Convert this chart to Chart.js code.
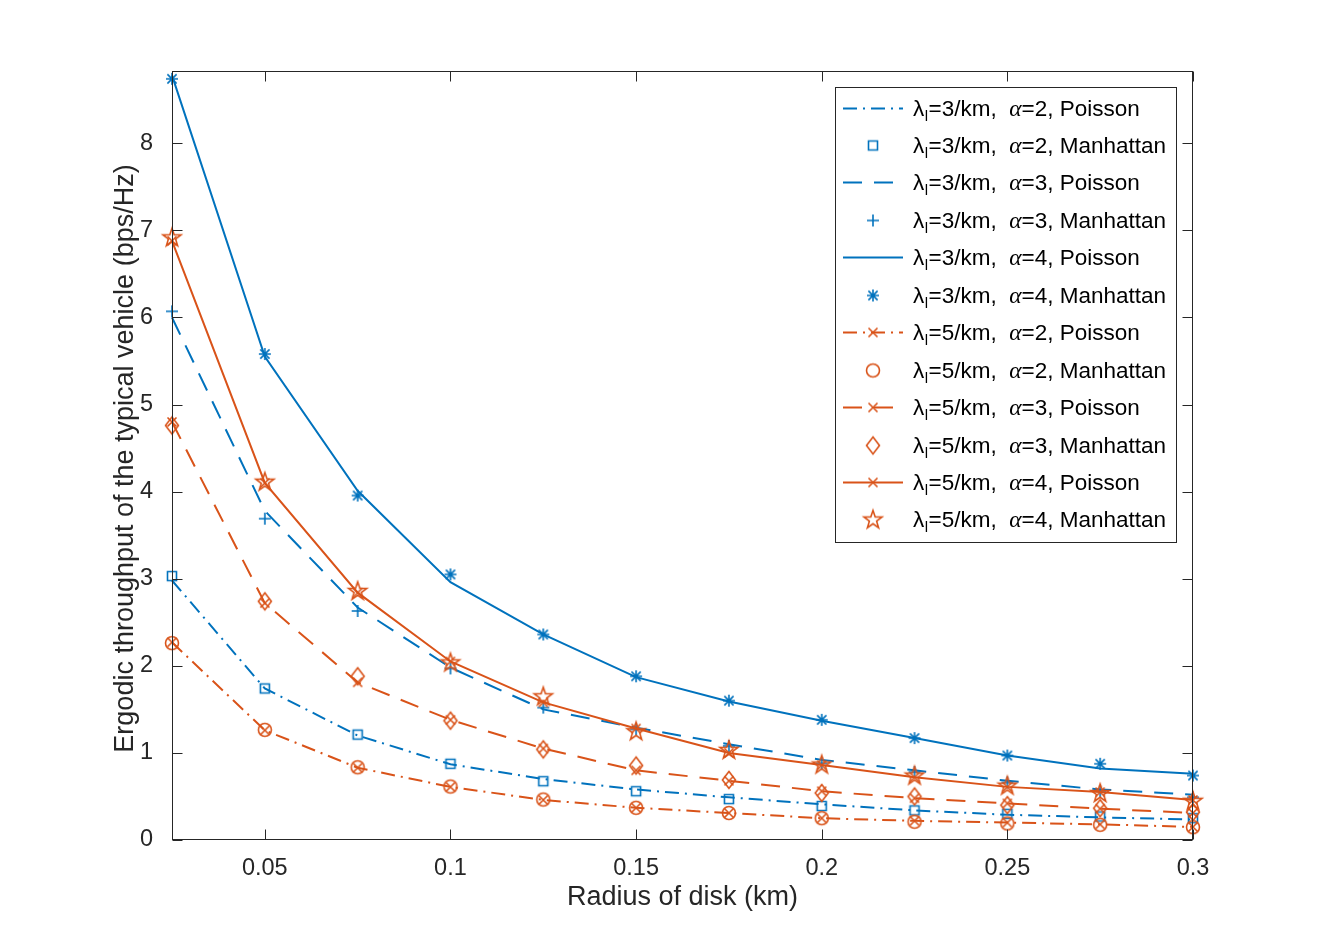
<!DOCTYPE html>
<html>
<head>
<meta charset="utf-8">
<script src="https://cdn.jsdelivr.net/npm/chart.js@4.4.1/dist/chart.umd.min.js"></script>
<style>
  html, body { margin: 0; padding: 0; background: #ffffff; }
  #wrap { width: 1319px; height: 944px; }
  canvas { display: block; }
</style>
</head>
<body>
<div id="wrap"><canvas id="c" width="1319" height="944"></canvas></div>
<script>
// ---------------- data ----------------
const radius = [0.025, 0.05, 0.075, 0.1, 0.125, 0.15, 0.175, 0.2, 0.225, 0.25, 0.275, 0.3];

const poisL3A2 = [2.98, 1.74, 1.20, 0.87, 0.70, 0.58, 0.49, 0.41, 0.34, 0.29, 0.26, 0.235];
const manhL3A2 = [3.03, 1.74, 1.21, 0.875, 0.675, 0.56, 0.47, 0.39, 0.34, 0.30, 0.27, 0.25];
const poisL3A3 = [6.00, 3.78, 2.67, 1.98, 1.50, 1.29, 1.10, 0.92, 0.80, 0.68, 0.58, 0.52];
const manhL3A3 = [6.07, 3.69, 2.63, 1.97, 1.52, 1.27, 1.08, 0.88, 0.78, 0.66, 0.56, 0.49];
const poisL3A4 = [8.78, 5.55, 4.01, 2.96, 2.36, 1.87, 1.59, 1.37, 1.17, 0.97, 0.82, 0.76];
const manhL3A4 = [8.74, 5.58, 3.955, 3.05, 2.36, 1.88, 1.60, 1.38, 1.17, 0.97, 0.875, 0.74];
const poisL5A2 = [2.27, 1.26, 0.83, 0.61, 0.46, 0.37, 0.31, 0.25, 0.22, 0.20, 0.18, 0.15];
const manhL5A2 = [2.26, 1.265, 0.835, 0.614, 0.465, 0.37, 0.31, 0.25, 0.21, 0.19, 0.175, 0.147];
const poisL5A3 = [4.80, 2.72, 1.81, 1.38, 1.05, 0.80, 0.68, 0.56, 0.48, 0.42, 0.36, 0.31];
const manhL5A3 = [4.76, 2.74, 1.88, 1.37, 1.04, 0.855, 0.69, 0.54, 0.50, 0.40, 0.365, 0.32];
const poisL5A4 = [6.88, 4.10, 2.84, 2.05, 1.58, 1.28, 1.00, 0.86, 0.72, 0.61, 0.55, 0.46];
const manhL5A4 = [6.92, 4.115, 2.86, 2.04, 1.65, 1.25, 1.035, 0.867, 0.74, 0.625, 0.54, 0.45];

const xTicks = [0.05, 0.1, 0.15, 0.2, 0.25, 0.3];
const xTickLabels = ['0.05', '0.1', '0.15', '0.2', '0.25', '0.3'];
const yTicks = [0, 1, 2, 3, 4, 5, 6, 7, 8];
const yTickLabels = ['0', '1', '2', '3', '4', '5', '6', '7', '8'];

const legendLambda = ['3', '3', '3', '3', '3', '3', '5', '5', '5', '5', '5', '5'];
const legendAlpha = ['2', '2', '3', '3', '4', '4', '2', '2', '3', '3', '4', '4'];
const legendModel = ['Poisson', 'Manhattan', 'Poisson', 'Manhattan', 'Poisson', 'Manhattan',
                     'Poisson', 'Manhattan', 'Poisson', 'Manhattan', 'Poisson', 'Manhattan'];

const xTitle = 'Radius of disk (km)';
const yTitle = 'Ergodic throughput of the typical vehicle (bps/Hz)';

// ---------------- styles ----------------
const BLUE = '#0072BD';
const ORANGE = '#D95319';
const AXIS = '#262626';
const FONT = "'Liberation Sans', Arial, Helvetica, sans-serif";
const DASH = [19, 12];
const DASHDOT = [14, 6, 2, 6];

function makeMarker(type, color) {
  const s = 26, c = s / 2;
  const cv = document.createElement('canvas');
  cv.width = s; cv.height = s;
  const g = cv.getContext('2d');
  g.strokeStyle = color; g.lineWidth = 1.6; g.lineJoin = 'miter';
  g.beginPath();
  if (type === 'square') {
    g.rect(c - 4.5, c - 4.5, 9, 9);
  } else if (type === 'plus') {
    g.moveTo(c - 6, c); g.lineTo(c + 6, c);
    g.moveTo(c, c - 6); g.lineTo(c, c + 6);
  } else if (type === 'asterisk') {
    const r = 6, d = 4.6;
    g.moveTo(c - r, c); g.lineTo(c + r, c);
    g.moveTo(c, c - r); g.lineTo(c, c + r);
    g.moveTo(c - d, c - d); g.lineTo(c + d, c + d);
    g.moveTo(c - d, c + d); g.lineTo(c + d, c - d);
  } else if (type === 'x') {
    const d = 4.5;
    g.moveTo(c - d, c - d); g.lineTo(c + d, c + d);
    g.moveTo(c - d, c + d); g.lineTo(c + d, c - d);
  } else if (type === 'circle') {
    g.arc(c, c, 6.5, 0, Math.PI * 2);
  } else if (type === 'diamond') {
    g.moveTo(c, c - 8.5); g.lineTo(c + 6.5, c); g.lineTo(c, c + 8.5); g.lineTo(c - 6.5, c); g.closePath();
  } else if (type === 'pentagram') {
    const R = 9.5, r = 3.8;
    for (let i = 0; i < 10; i++) {
      const ang = -Math.PI / 2 + i * Math.PI / 5;
      const rr = (i % 2 === 0) ? R : r;
      const px = c + rr * Math.cos(ang), py = c + 0.5 + rr * Math.sin(ang);
      if (i === 0) g.moveTo(px, py); else g.lineTo(px, py);
    }
    g.closePath();
  }
  g.stroke();
  return cv;
}

const mk = {
  square: makeMarker('square', BLUE),
  plus: makeMarker('plus', BLUE),
  asterisk: makeMarker('asterisk', BLUE),
  x: makeMarker('x', ORANGE),
  circle: makeMarker('circle', ORANGE),
  diamond: makeMarker('diamond', ORANGE),
  pentagram: makeMarker('pentagram', ORANGE)
};

function pts(arr) { return radius.map((r, i) => ({ x: r, y: arr[i] })); }

const seriesDefs = [
  { data: poisL3A2, color: BLUE, line: true, dash: DASHDOT, marker: null },
  { data: manhL3A2, color: BLUE, line: false, dash: [], marker: mk.square },
  { data: poisL3A3, color: BLUE, line: true, dash: DASH, marker: null },
  { data: manhL3A3, color: BLUE, line: false, dash: [], marker: mk.plus },
  { data: poisL3A4, color: BLUE, line: true, dash: [], marker: null },
  { data: manhL3A4, color: BLUE, line: false, dash: [], marker: mk.asterisk },
  { data: poisL5A2, color: ORANGE, line: true, dash: DASHDOT, marker: mk.x },
  { data: manhL5A2, color: ORANGE, line: false, dash: [], marker: mk.circle },
  { data: poisL5A3, color: ORANGE, line: true, dash: DASH, marker: mk.x },
  { data: manhL5A3, color: ORANGE, line: false, dash: [], marker: mk.diamond },
  { data: poisL5A4, color: ORANGE, line: true, dash: [], marker: mk.x },
  { data: manhL5A4, color: ORANGE, line: false, dash: [], marker: mk.pentagram }
];

const datasets = seriesDefs.map((s, i) => ({
  label: 'λl=' + legendLambda[i] + '/km, α=' + legendAlpha[i] + ', ' + legendModel[i],
  data: pts(s.data),
  borderColor: s.color,
  backgroundColor: 'rgba(0,0,0,0)',
  borderWidth: 2,
  borderDash: s.dash,
  showLine: s.line,
  tension: 0,
  pointStyle: s.marker ? s.marker : false,
  pointRadius: s.marker ? 6 : 0,
  pointHoverRadius: s.marker ? 6 : 0,
  pointBorderWidth: 0,
  clip: false,
  order: -i
}));

// ---------------- plugin: axes box, ticks, titles, legend ----------------
const decor = {
  id: 'decor',
  afterDraw(chart) {
    const ctx = chart.ctx;
    const a = chart.chartArea;
    const xs = chart.scales.x, ys = chart.scales.y;
    ctx.save();
    // box
    ctx.strokeStyle = AXIS;
    ctx.lineWidth = 1;
    ctx.setLineDash([]);
    const L = Math.round(a.left) + 0.5, R = Math.round(a.right) - 0.5;
    const T = Math.round(a.top) + 0.5, B = Math.round(a.bottom) - 0.5;
    ctx.strokeRect(L, T, R - L, B - T);
    // ticks (inward, on all four sides)
    const tl = 10;
    ctx.beginPath();
    xTicks.forEach(v => {
      const px = Math.round(xs.getPixelForValue(v)) + 0.5;
      ctx.moveTo(px, B); ctx.lineTo(px, B - tl);
      ctx.moveTo(px, T); ctx.lineTo(px, T + tl);
    });
    yTicks.forEach(v => {
      const py = Math.round(ys.getPixelForValue(v)) + 0.5;
      ctx.moveTo(L, py); ctx.lineTo(L + tl, py);
      ctx.moveTo(R, py); ctx.lineTo(R - tl, py);
    });
    ctx.stroke();

    // axis titles
    ctx.fillStyle = AXIS;
    ctx.font = '27px ' + FONT;
    ctx.textAlign = 'center';
    ctx.textBaseline = 'middle';
    ctx.fillText(xTitle, (a.left + a.right) / 2, 898);
    ctx.save();
    ctx.translate(126, (a.top + a.bottom) / 2 + 3);
    ctx.rotate(-Math.PI / 2);
    ctx.fillText(yTitle, 0, 0);
    ctx.restore();

    // legend
    const bx = 835.5, by = 87.5, bw = 341, bh = 455;
    ctx.fillStyle = '#ffffff';
    ctx.fillRect(bx, by, bw, bh);
    ctx.strokeStyle = AXIS;
    ctx.lineWidth = 1;
    ctx.strokeRect(bx, by, bw, bh);
    const rowY0 = 107.5, rowH = 37.45;
    const lx0 = 843, lx1 = 903, mx = 873, tx = 913;
    const fs = 22.5;
    seriesDefs.forEach((s, i) => {
      const y = rowY0 + i * rowH;
      if (s.line) {
        ctx.strokeStyle = s.color;
        ctx.lineWidth = 2;
        ctx.setLineDash(s.dash);
        ctx.beginPath();
        ctx.moveTo(lx0, Math.round(y) + 0.5);
        ctx.lineTo(lx1, Math.round(y) + 0.5);
        ctx.stroke();
        ctx.setLineDash([]);
      }
      if (s.marker) {
        ctx.drawImage(s.marker, mx - s.marker.width / 2, Math.round(y) + 0.5 - s.marker.height / 2);
      }
      // text
      ctx.fillStyle = '#000000';
      ctx.textAlign = 'left';
      ctx.textBaseline = 'alphabetic';
      const base = y + 8;
      let x = tx;
      ctx.font = fs + 'px ' + FONT;
      ctx.fillText('λ', x, base); x += ctx.measureText('λ').width;
      ctx.font = '15px ' + FONT;
      ctx.fillText('l', x + 0.5, base + 5); x += ctx.measureText('l').width + 1;
      ctx.font = fs + 'px ' + FONT;
      const p1 = '=' + legendLambda[i] + '/km,  ';
      ctx.fillText(p1, x, base); x += ctx.measureText(p1).width;
      ctx.font = 'italic ' + (fs + 1) + "px 'Liberation Serif', 'DejaVu Serif', serif";
      ctx.fillText('α', x, base); x += ctx.measureText('α').width;
      ctx.font = fs + 'px ' + FONT;
      ctx.fillText('=' + legendAlpha[i] + ', ' + legendModel[i], x, base);
    });
    ctx.restore();
  }
};

new Chart(document.getElementById('c'), {
  type: 'scatter',
  data: { datasets },
  options: {
    responsive: false,
    devicePixelRatio: 1,
    animation: false,
    events: [],
    layout: { padding: { top: 71, right: 126, left: 0, bottom: 0 } },
    plugins: { legend: { display: false }, tooltip: { enabled: false }, title: { display: false } },
    scales: {
      x: {
        type: 'linear',
        position: 'bottom',
        min: 0.025,
        max: 0.3,
        grid: { display: false },
        border: { display: false },
        afterBuildTicks: (sc) => { sc.ticks = xTicks.map(v => ({ value: v })); },
        afterFit: (sc) => { sc.height = 104; },
        ticks: {
          autoSkip: false,
          maxRotation: 0,
          padding: 6,
          color: AXIS,
          font: { family: FONT, size: 23.5 },
          callback: (v, idx) => xTickLabels[idx]
        }
      },
      y: {
        type: 'linear',
        position: 'left',
        min: 0,
        max: 8.83,
        grid: { display: false },
        border: { display: false },
        afterBuildTicks: (sc) => { sc.ticks = yTicks.map(v => ({ value: v })); },
        afterFit: (sc) => { sc.width = 172; },
        ticks: {
          autoSkip: false,
          padding: 11,
          color: AXIS,
          font: { family: FONT, size: 23.5 },
          callback: (v, idx) => yTickLabels[idx]
        }
      }
    }
  },
  plugins: [decor]
});
</script>
</body>
</html>
